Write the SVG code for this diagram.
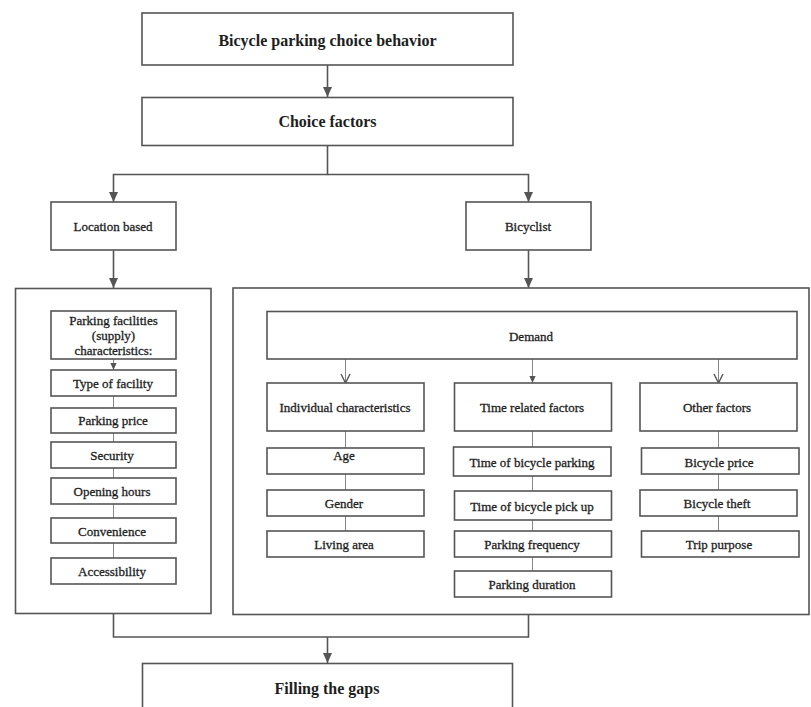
<svg xmlns="http://www.w3.org/2000/svg" width="811" height="707" viewBox="0 0 811 707">
<style>
  .box{fill:#fff;stroke:#555;stroke-width:1.6}
  .outer{fill:none;stroke:#555;stroke-width:1.6}
  .t{font-family:"Liberation Serif","Times New Roman",serif;font-size:13px;fill:#1e1e1e;stroke:#1e1e1e;stroke-width:0.3;text-anchor:middle;dominant-baseline:central}
  .tb{font-family:"Liberation Serif","Times New Roman",serif;font-size:16px;font-weight:bold;fill:#1e1e1e;text-anchor:middle;dominant-baseline:central}
  .c{fill:none;stroke:#555;stroke-width:1.6}
  .cl{fill:none;stroke:#888;stroke-width:1}
</style>
<defs>
  <marker id="ah" markerUnits="userSpaceOnUse" markerWidth="10" markerHeight="10" viewBox="0 0 10 10" refX="10" refY="5" orient="auto">
    <path d="M0,0.5 L10,5 L0,9.5 z" fill="#555"/>
  </marker>
  <marker id="ahs" markerUnits="userSpaceOnUse" markerWidth="7" markerHeight="7" viewBox="0 0 10 10" refX="10" refY="5" orient="auto">
    <path d="M0,0.5 L10,5 L0,9.5 z" fill="#555"/>
  </marker>
  <marker id="av" markerUnits="userSpaceOnUse" markerWidth="11" markerHeight="11" viewBox="0 0 11 11" refX="10" refY="5.5" orient="auto">
    <path d="M1,1 L10,5.5 L1,10" fill="none" stroke="#555" stroke-width="1.4"/>
  </marker>
</defs>

<g id="connectors">
  <path class="c" d="M327.5,65 V97" marker-end="url(#ah)"/>
  <path class="c" d="M327.5,145.5 V174.5 H113.5 V202" marker-end="url(#ah)"/>
  <path class="c" d="M327.5,174.5 H528.5 V202" marker-end="url(#ah)"/>
  <path class="c" d="M113.5,250 V288" marker-end="url(#ah)"/>
  <path class="c" d="M528.5,250 V288" marker-end="url(#ah)"/>
  <path class="cl" d="M113.5,359 V370" marker-end="url(#ahs)"/>
  <path class="cl" d="M113.5,396 V408 M113.5,433 V442 M113.5,468 V478 M113.5,504 V518 M113.5,543 V558"/>
  <path class="cl" d="M345.5,359 V383" marker-end="url(#av)"/>
  <path class="cl" d="M532.5,359 V383" marker-end="url(#ahs)"/>
  <path class="cl" d="M718.5,359 V383" marker-end="url(#av)"/>
  <path class="cl" d="M345.5,431 V448 M345.5,474 V490 M345.5,516 V531"/>
  <path class="cl" d="M532.5,431 V447 M532.5,476 V491 M532.5,520 V531 M532.5,557 V571"/>
  <path class="cl" d="M718.5,431 V448 M718.5,474 V490 M718.5,516 V531"/>
  <path class="c" d="M113.5,613.5 V637 H528.5 V614.5"/>
  <path class="c" d="M327.5,637 V663" marker-end="url(#ah)"/>
</g>

<g id="n-behavior"><rect class="box" x="142" y="13" width="371" height="52"/><text class="tb" x="327.5" y="40">Bicycle parking choice behavior</text></g>
<g id="n-choice"><rect class="box" x="142" y="97.5" width="371" height="48"/><text class="tb" x="327.5" y="121.5">Choice factors</text></g>
<g id="n-location"><rect class="box" x="51" y="202" width="125" height="48"/><text class="t" x="113" y="226.5">Location based</text></g>
<g id="n-bicyclist"><rect class="box" x="466" y="202" width="125" height="48"/><text class="t" x="528" y="226.5">Bicyclist</text></g>

<g id="n-left-group"><rect class="outer" x="15.5" y="288.5" width="195.5" height="325"/></g>
<g id="n-right-group"><rect class="outer" x="233" y="288" width="576" height="326.5"/></g>

<g id="n-supply"><rect class="box" x="51" y="311" width="125" height="48"/>
  <text class="t" x="113.5" y="320.5">Parking facilities</text>
  <text class="t" x="113.5" y="335.5">(supply)</text>
  <text class="t" x="113.5" y="350">characteristics:</text></g>
<g id="n-type"><rect class="box" x="51" y="370" width="125" height="26"/><text class="t" x="113" y="383.5">Type of facility</text></g>
<g id="n-price"><rect class="box" x="51" y="408" width="125" height="25"/><text class="t" x="113" y="420.5">Parking price</text></g>
<g id="n-security"><rect class="box" x="51" y="442" width="125" height="26"/><text class="t" x="112" y="455.5">Security</text></g>
<g id="n-opening"><rect class="box" x="51" y="478" width="125" height="26"/><text class="t" x="112" y="491.5">Opening hours</text></g>
<g id="n-convenience"><rect class="box" x="51" y="518" width="125" height="25"/><text class="t" x="112" y="531">Convenience</text></g>
<g id="n-accessibility"><rect class="box" x="51" y="558" width="125" height="26"/><text class="t" x="112" y="571.5">Accessibility</text></g>

<g id="n-demand"><rect class="box" x="267" y="311.5" width="530" height="47.5"/><text class="t" x="531" y="336">Demand</text></g>

<g id="n-individual"><rect class="box" x="267" y="383" width="157" height="48"/><text class="t" x="345" y="407.5">Individual characteristics</text></g>
<g id="n-age"><rect class="box" x="267" y="448" width="157" height="26"/><text class="t" x="344" y="455">Age</text></g>
<g id="n-gender"><rect class="box" x="267" y="490" width="157" height="26"/><text class="t" x="344" y="503.5">Gender</text></g>
<g id="n-living"><rect class="box" x="267" y="531" width="157" height="26"/><text class="t" x="344" y="544.5">Living area</text></g>

<g id="n-time"><rect class="box" x="454.5" y="383" width="157" height="48"/><text class="t" x="532" y="407.5">Time related factors</text></g>
<g id="n-tpark"><rect class="box" x="453.5" y="447" width="157.5" height="29"/><text class="t" x="532" y="462">Time of bicycle parking</text></g>
<g id="n-tpick"><rect class="box" x="454.5" y="491" width="157" height="29"/><text class="t" x="532" y="506">Time of bicycle pick up</text></g>
<g id="n-freq"><rect class="box" x="454.5" y="531" width="157" height="26"/><text class="t" x="532" y="544.5">Parking frequency</text></g>
<g id="n-duration"><rect class="box" x="454.5" y="571" width="157" height="26"/><text class="t" x="532" y="584">Parking duration</text></g>

<g id="n-other"><rect class="box" x="640" y="383" width="157" height="48"/><text class="t" x="717" y="407.5">Other factors</text></g>
<g id="n-bprice"><rect class="box" x="641.5" y="448" width="157.5" height="26"/><text class="t" x="719" y="462">Bicycle price</text></g>
<g id="n-theft"><rect class="box" x="640" y="490" width="157" height="26"/><text class="t" x="717" y="503.5">Bicycle theft</text></g>
<g id="n-trip"><rect class="box" x="641.5" y="531" width="157.5" height="26"/><text class="t" x="719" y="544.5">Trip purpose</text></g>

<g id="n-gaps"><rect class="box" x="142.5" y="663.5" width="370" height="60"/><text class="tb" x="327" y="688.5">Filling the gaps</text></g>
</svg>
